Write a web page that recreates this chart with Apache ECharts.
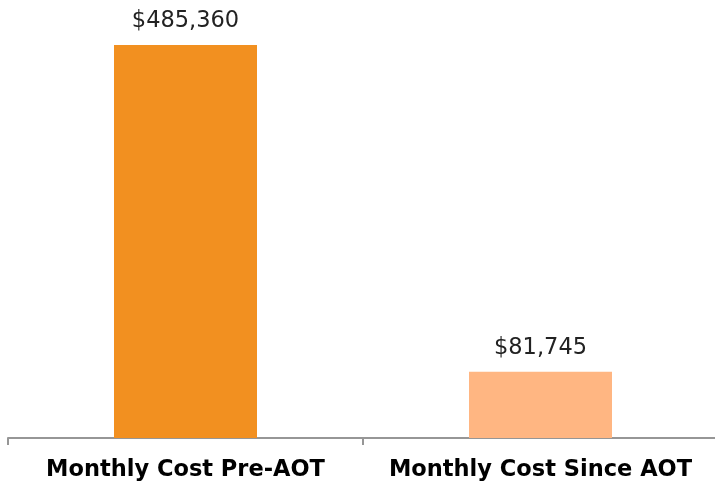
<!DOCTYPE html>
<html><head><meta charset="utf-8">
<script src="https://cdn.jsdelivr.net/npm/echarts@6/dist/echarts.min.js"></script>
<style>html,body{margin:0;padding:0;background:#fff;overflow:hidden}#c{width:718px;height:487px}</style>
</head><body><div id="c"></div>
<script>
const categories = ['Monthly Cost Pre-AOT', 'Monthly Cost Since AOT'];
const values = [485360, 81745];
const barColors = ['#F29020', '#FFB682'];

const chart = echarts.init(document.getElementById('c'));
chart.setOption({
  animation: false,
  grid: { left: 8, right: 0, top: 45, bottom: 49, containLabel: false, outerBoundsMode: 'none' },
  xAxis: {
    type: 'category',
    data: categories,
    axisLine: { lineStyle: { color: '#969696', width: 2 } },
    axisTick: { show: true, interval: 0, length: 7, lineStyle: { color: '#969696', width: 2 } },
    axisLabel: { interval: 0, hideOverlap: false, fontFamily: 'DejaVu Sans', fontWeight: 'bold', fontSize: 22.5, color: '#000', margin: 21 }
  },
  yAxis: { type: 'value', min: 0, max: 485360, show: false, splitLine: { show: false } },
  series: [{
    type: 'bar',
    data: values.map((v, i) => ({ value: v, itemStyle: { color: barColors[i] } })),
    barWidth: 143,
    label: {
      show: true, position: 'top', distance: 12,
      fontFamily: 'DejaVu Sans', fontSize: 22.5, color: '#222',
      formatter: p => '$' + p.value.toLocaleString('en-US')
    }
  }]
});
</script></body></html>
